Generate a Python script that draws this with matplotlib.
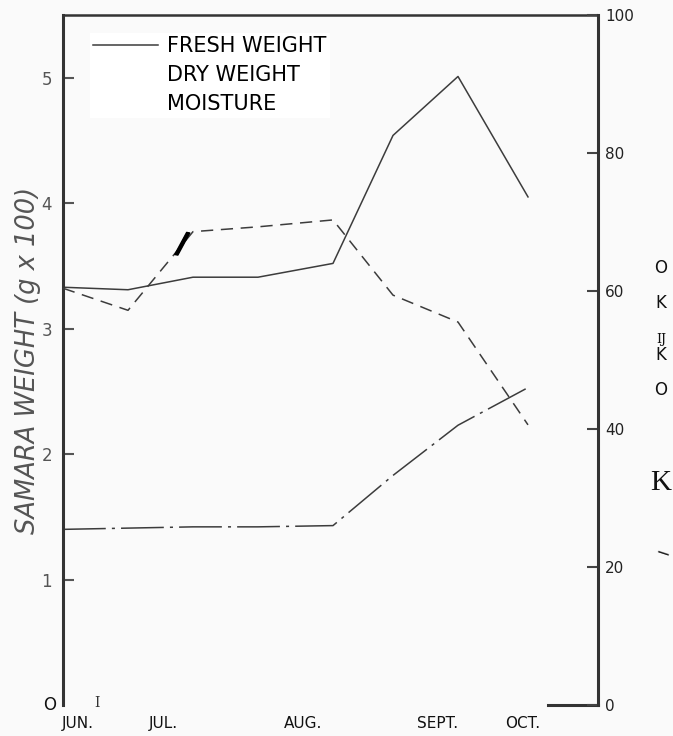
import matplotlib.pyplot as plt
import matplotlib.patheffects as pe
from matplotlib.lines import Line2D

# sampling dates (days after first sample) and the three series
days = [0, 13, 26, 39, 54, 66, 79, 93]
fresh_weight = [3.33, 3.31, 3.41, 3.41, 3.52, 4.54, 5.01, 4.05]   # g x 100
dry_weight = [1.40, 1.41, 1.42, 1.42, 1.43, 1.83, 2.23, 2.53]     # g x 100
moisture = [60.4, 57.2, 68.6, 69.3, 70.3, 59.4, 55.5, 40.6]       # percent

month_pos = [3, 20, 48, 75, 92]
month_labels = ['JUN.', 'JUL.', 'AUG.', 'SEPT.', 'OCT.']
left_ticks = [1, 2, 3, 4, 5]
right_ticks = [0, 20, 40, 60, 80, 100]
legend_labels = ['FRESH WEIGHT', 'DRY WEIGHT', 'MOISTURE']

ink = '#3c3c3c'
frame = '#333333'
bg = '#fafafa'

fig = plt.figure(figsize=(6.73, 7.36), dpi=100, facecolor=bg)
W, H = 673, 736
ax = fig.add_axes([63 / W, 31 / H, 535 / W, 690 / H])
ax.set_facecolor(bg)
ax2 = ax.twinx()

ax.plot(days, fresh_weight, color=ink, lw=1.1)
ax.plot(days, dry_weight, color=ink, lw=1.1, dashes=[28, 4, 2, 4])
ax2.plot(days, moisture, color=ink, lw=1.1, dashes=[8, 5])

ax.set_xlim(0, 107)
ax.set_ylim(0, 5.5)
ax2.set_ylim(0, 100)

ax.set_yticks(left_ticks)
ax.tick_params(axis='y', direction='in', length=8, width=1.5, color='#555',
               labelcolor='#555', labelsize=12, pad=8)
ax2.set_yticks(right_ticks)
ax2.tick_params(axis='y', direction='in', length=8, width=1.5, color='#444',
                labelcolor='#222', labelsize=11, pad=5)
ax.set_xticks(month_pos, month_labels)
ax.tick_params(axis='x', length=0, labelsize=11, pad=8, labelcolor='#111')

for name in ['left', 'bottom']:
    ax.spines[name].set_linewidth(2.2)
    ax.spines[name].set_color(frame)
ax.spines['top'].set_linewidth(1.8)
ax.spines['top'].set_color(frame)
ax.spines['right'].set_visible(False)
ax.spines['bottom'].set_bounds(97, 107)
for name in ['left', 'top', 'bottom']:
    ax2.spines[name].set_visible(False)
ax2.spines['right'].set_linewidth(2.2)
ax2.spines['right'].set_color(frame)

ax.set_ylabel('SAMARA WEIGHT (g x 100)', fontsize=18.5, style='italic', color='#555')
ax.yaxis.set_label_coords(-0.042, 0.5)

handles = [Line2D([], [], color=ink, lw=1.1),
           Line2D([], [], color='none'),
           Line2D([], [], color='none')]
ax2.legend(handles, legend_labels, loc='upper left',
           bbox_to_anchor=(90 / W, 1 - 33 / H), bbox_transform=fig.transFigure,
           frameon=True, facecolor='white', edgecolor='none', fancybox=False,
           framealpha=1, borderpad=0.15, borderaxespad=0, handlelength=3.1,
           handletextpad=0.45, labelspacing=0.44, fontsize=15)

# scan / OCR leftovers
fig.text(50 / W, 1 - 705 / H, 'O', fontsize=12, ha='center', va='center', color='#111')
fig.text(97 / W, 1 - 703 / H, 'I', fontsize=10, family='DejaVu Serif', ha='center', va='center', color='#333')
fig.text(182 / W, 1 - 245 / H, '/', fontsize=21, fontweight='bold', rotation=-11,
         ha='center', va='center', color='black',
         path_effects=[pe.withStroke(linewidth=1.0, foreground='black')])
side = [('O', 268, 12, 'DejaVu Sans'), ('K', 303, 12, 'DejaVu Sans'),
        ('IJ', 339, 9, 'DejaVu Serif'), ('K', 355, 12, 'DejaVu Sans'),
        ('O', 390, 12, 'DejaVu Sans'), ('K', 483, 21, 'Liberation Serif')]
for s, y, size, fam in side:
    fig.text(661 / W, 1 - y / H, s, fontsize=size, family=fam, ha='center', va='center', color='#111')
fig.text(662 / W, 1 - 553 / H, '—', fontsize=9, rotation=-18, fontweight='bold',
         ha='center', va='center', color='#222')

fig.savefig('out.png', dpi=100, facecolor=bg)
